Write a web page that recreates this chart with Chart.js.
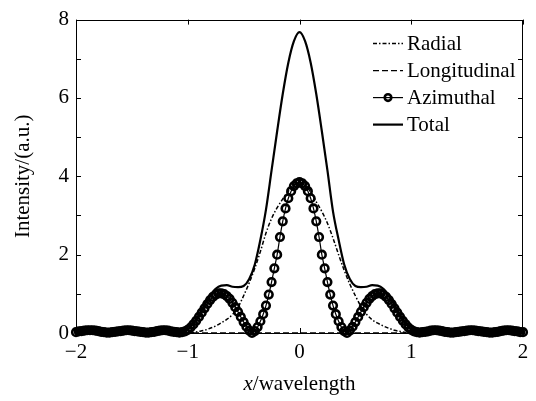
<!DOCTYPE html>
<html>
<head>
<meta charset="utf-8">
<script src="https://cdn.jsdelivr.net/npm/chart.js@4.4.1/dist/chart.umd.min.js"></script>
<style>
  html,body{margin:0;padding:0;background:#fff;}
  #wrap{width:536px;height:401px;position:relative;}
</style>
</head>
<body>
<div id="wrap"><canvas id="c" width="536" height="401"></canvas></div>
<script>
// ---- DATA ----
const seriesNames = ['Radial', 'Longitudinal', 'Azimuthal', 'Total'];
const xTicks = [-2, -1, 0, 1, 2];
const yTicks = [0, 2, 4, 6, 8];

// coarse x grid (step 0.05) for Radial, Longitudinal, Total
const xCoarse = [-2,-1.95,-1.9,-1.85,-1.8,-1.75,-1.7,-1.65,-1.6,-1.55,-1.5,-1.45,-1.4,-1.35,-1.3,-1.25,-1.2,-1.15,-1.1,-1.05,
  -1,-0.95,-0.9,-0.85,-0.8,-0.75,-0.7,-0.65,-0.6,-0.55,-0.5,-0.45,-0.4,-0.35,-0.3,-0.25,-0.2,-0.15,-0.1,-0.05,
  0,0.05,0.1,0.15,0.2,0.25,0.3,0.35,0.4,0.45,0.5,0.55,0.6,0.65,0.7,0.75,0.8,0.85,0.9,0.95,
  1,1.05,1.1,1.15,1.2,1.25,1.3,1.35,1.4,1.45,1.5,1.55,1.6,1.65,1.7,1.75,1.8,1.85,1.9,1.95,2];

const radial = [0,0,0,0,0,0,0,0,0,0,0,0,0,0,0,0,0,0,0,0,
  0,0.015,0.04,0.07,0.12,0.18,0.26,0.35,0.47,0.66,0.95,1.28,1.65,2.08,2.55,2.92,3.2,3.42,3.62,3.78,
  3.85,3.78,3.6,3.35,3.1,2.8,2.42,2.0,1.6,1.25,0.95,0.68,0.48,0.34,0.25,0.18,0.12,0.07,0.04,0.015,
  0,0,0,0,0,0,0,0,0,0,0,0,0,0,0,0,0,0,0,0,0];

const longitudinal = [0,0,0,0,0,0,0,0,0,0,0,0,0,0,0,0,0,0,0,0,
  0,0,0,0,0,0,0,0,0,0,0,0,0,0,0,0,0,0,0,0,
  0,0,0,0,0,0,0,0,0,0,0,0,0,0,0,0,0,0,0,0,
  0,0,0,0,0,0,0,0,0,0,0,0,0,0,0,0,0,0,0,0,0];

const total = [0.02,0.05,0.07,0.07,0.05,0.02,0.01,0.03,0.05,0.07,0.06,0.04,0.02,0.01,0.03,0.06,0.07,0.04,0.02,0.02,
  0.1,0.25,0.47,0.72,0.95,1.13,1.21,1.22,1.18,1.17,1.2,1.38,1.75,2.38,3.15,4.15,5.15,6.1,6.9,7.45,
  7.68,7.45,6.9,6.1,5.15,4.15,3.1,2.38,1.75,1.38,1.2,1.17,1.18,1.22,1.21,1.13,0.95,0.72,0.47,0.25,
  0.1,0.02,0.02,0.04,0.07,0.06,0.03,0.01,0.02,0.04,0.06,0.07,0.05,0.03,0.01,0.02,0.05,0.07,0.06,0.04,0.02];

// fine x grid (step 0.025) for Azimuthal (marker spacing)
const xFine = [-2,-1.975,-1.95,-1.925,-1.9,-1.875,-1.85,-1.825,-1.8,-1.775,-1.75,-1.725,-1.7,-1.675,-1.65,-1.625,-1.6,-1.575,-1.55,-1.525,
  -1.5,-1.475,-1.45,-1.425,-1.4,-1.375,-1.35,-1.325,-1.3,-1.275,-1.25,-1.225,-1.2,-1.175,-1.15,-1.125,-1.1,-1.075,-1.05,-1.025,
  -1,-0.975,-0.95,-0.925,-0.9,-0.875,-0.85,-0.825,-0.8,-0.775,-0.75,-0.725,-0.7,-0.675,-0.65,-0.625,-0.6,-0.575,-0.55,-0.525,
  -0.5,-0.475,-0.45,-0.425,-0.4,-0.375,-0.35,-0.325,-0.3,-0.275,-0.25,-0.225,-0.2,-0.175,-0.15,-0.125,-0.1,-0.075,-0.05,-0.025,
  0,0.025,0.05,0.075,0.1,0.125,0.15,0.175,0.2,0.225,0.25,0.275,0.3,0.325,0.35,0.375,0.4,0.425,0.45,0.475,
  0.5,0.525,0.55,0.575,0.6,0.625,0.65,0.675,0.7,0.725,0.75,0.775,0.8,0.825,0.85,0.875,0.9,0.925,0.95,0.975,
  1,1.025,1.05,1.075,1.1,1.125,1.15,1.175,1.2,1.225,1.25,1.275,1.3,1.325,1.35,1.375,1.4,1.425,1.45,1.475,
  1.5,1.525,1.55,1.575,1.6,1.625,1.65,1.675,1.7,1.725,1.75,1.775,1.8,1.825,1.85,1.875,1.9,1.925,1.95,1.975,2];

const azimuthal = [0.02,0.04,0.05,0.06,0.07,0.07,0.07,0.06,0.05,0.03,0.02,0.01,0.01,0.02,0.03,0.04,0.05,0.06,0.07,0.07,
  0.06,0.05,0.04,0.03,0.02,0.01,0.01,0.02,0.03,0.05,0.06,0.07,0.07,0.06,0.04,0.03,0.02,0.01,0.02,0.04,
  0.08,0.14,0.22,0.31,0.41,0.52,0.63,0.74,0.84,0.92,0.98,1.01,1.01,0.99,0.94,0.87,0.77,0.66,0.54,0.41,
  0.28,0.16,0.06,0.0,0.05,0.15,0.3,0.48,0.7,0.98,1.3,1.65,2.0,2.45,2.85,3.18,3.44,3.62,3.75,3.82,
  3.85,3.82,3.75,3.62,3.44,3.18,2.85,2.45,2.0,1.65,1.3,0.98,0.7,0.48,0.3,0.15,0.05,0.0,0.06,0.16,
  0.28,0.41,0.54,0.66,0.77,0.87,0.94,0.99,1.01,1.01,0.98,0.92,0.84,0.74,0.63,0.52,0.41,0.31,0.22,0.14,
  0.08,0.04,0.02,0.01,0.02,0.03,0.04,0.06,0.07,0.07,0.06,0.05,0.03,0.02,0.01,0.01,0.02,0.03,0.04,0.05,
  0.06,0.07,0.07,0.06,0.05,0.04,0.03,0.02,0.01,0.01,0.02,0.03,0.05,0.06,0.07,0.07,0.06,0.05,0.04,0.02,0.02];

// ---- BUILD ----
const pts = (xs, ys) => xs.map((x, i) => ({x: x, y: ys[i]}));
const FONT = '"Liberation Serif", "Times New Roman", serif';
const FS = 21;

const datasets = [
  {label: seriesNames[2], data: pts(xFine, azimuthal), borderColor: '#000', borderWidth: 1.2,
   pointStyle: 'circle', pointRadius: 3.8, pointBorderWidth: 2.6, pointBorderColor: '#000',
   pointBackgroundColor: 'rgba(0,0,0,0)', clip: false, _legendIdx: 2},
  {label: seriesNames[3], data: pts(xCoarse, total), borderColor: '#000', borderWidth: 2.2,
   pointRadius: 0, clip: false, _legendIdx: 3},
  {label: seriesNames[0], data: pts(xCoarse, radial), borderColor: '#000', borderWidth: 1.5,
   borderDash: [4, 2, 1.5, 2], pointRadius: 0, clip: false, _legendIdx: 0},
  {label: seriesNames[1], data: pts(xCoarse, longitudinal), borderColor: '#000', borderWidth: 1.3,
   borderDash: [6, 3], pointRadius: 0, clip: false, _legendIdx: 1}
];

const decor = {
  id: 'decor',
  afterDraw(chart) {
    const ctx = chart.ctx;
    const a = chart.chartArea;
    const xs = chart.scales.x, ys = chart.scales.y;
    ctx.save();
    // frame
    ctx.strokeStyle = '#000';
    ctx.lineWidth = 1;
    ctx.setLineDash([]);
    ctx.strokeRect(Math.round(a.left) + 0.5, Math.round(a.top) + 0.5,
                   Math.round(a.right - a.left) - 1, Math.round(a.bottom - a.top));
    // inward ticks
    const tl = 5;
    ctx.beginPath();
    for (const v of xTicks) {
      const px = Math.round(xs.getPixelForValue(v)) + 0.5;
      ctx.moveTo(px, a.bottom); ctx.lineTo(px, a.bottom - tl);
      ctx.moveTo(px, a.top); ctx.lineTo(px, a.top + tl);
    }
    for (let v = ys.min; v <= ys.max; v += 1) {
      const py = Math.round(ys.getPixelForValue(v)) + 0.5;
      ctx.moveTo(a.left, py); ctx.lineTo(a.left + tl, py);
      ctx.moveTo(a.right, py); ctx.lineTo(a.right - tl, py);
    }
    ctx.stroke();

    // legend
    const sx0 = a.right - 150, sx1 = a.right - 120, tx = a.right - 116;
    ctx.font = FS + 'px ' + FONT;
    ctx.fillStyle = '#000';
    ctx.textBaseline = 'middle';
    ctx.textAlign = 'left';
    for (let i = 0; i < seriesNames.length; i++) {
      const ds = datasets.find(d => d._legendIdx === i);
      const y = a.top + 24 + i * 27;
      ctx.save();
      ctx.strokeStyle = '#000';
      ctx.lineWidth = ds.borderWidth;
      ctx.setLineDash(ds.borderDash || []);
      ctx.beginPath();
      ctx.moveTo(sx0, y); ctx.lineTo(sx1, y);
      ctx.stroke();
      if (ds.pointRadius > 0) {
        ctx.setLineDash([]);
        ctx.lineWidth = ds.pointBorderWidth;
        ctx.beginPath();
        ctx.arc((sx0 + sx1) / 2, y, 3.3, 0, Math.PI * 2);
        ctx.stroke();
      }
      ctx.restore();
      ctx.fillText(seriesNames[i], tx, y + 1);
    }

    // x title with italic x
    const cx = (a.left + a.right) / 2;
    const ty = 384;
    ctx.font = 'italic ' + FS + 'px ' + FONT;
    const w1 = ctx.measureText('x').width;
    ctx.font = FS + 'px ' + FONT;
    const w2 = ctx.measureText('/wavelength').width;
    let start = cx - (w1 + w2) / 2;
    ctx.font = 'italic ' + FS + 'px ' + FONT;
    ctx.fillText('x', start, ty);
    ctx.font = FS + 'px ' + FONT;
    ctx.fillText('/wavelength', start + w1, ty);

    // y title
    ctx.translate(23, (a.top + a.bottom) / 2);
    ctx.rotate(-Math.PI / 2);
    ctx.textAlign = 'center';
    ctx.fillText('Intensity/(a.u.)', 0, 0);
    ctx.restore();
  }
};

new Chart(document.getElementById('c'), {
  type: 'line',
  data: {datasets: datasets},
  plugins: [decor],
  options: {
    responsive: false,
    animation: false,
    devicePixelRatio: 1,
    layout: {padding: {top: 13, right: 13, left: 0, bottom: 0}},
    plugins: {legend: {display: false}, tooltip: {enabled: false}},
    elements: {line: {tension: 0.3, cubicInterpolationMode: 'monotone'}},
    scales: {
      x: {
        type: 'linear', min: -2, max: 2,
        grid: {display: false, drawTicks: false},
        border: {display: false},
        afterFit: s => { s.height = 68; },
        afterBuildTicks: s => { s.ticks = xTicks.map(v => ({value: v})); },
        ticks: {
          color: '#000', padding: 7, font: {family: FONT, size: FS},
          callback: v => (v < 0 ? '\u2212' + Math.abs(v) : String(v))
        }
      },
      y: {
        type: 'linear', min: 0, max: 8,
        grid: {display: false, drawTicks: false},
        border: {display: false},
        afterFit: s => { s.width = 76; },
        afterBuildTicks: s => { s.ticks = yTicks.map(v => ({value: v})); },
        ticks: {color: '#000', padding: 7, font: {family: FONT, size: FS}}
      }
    }
  }
});
</script>
</body>
</html>
